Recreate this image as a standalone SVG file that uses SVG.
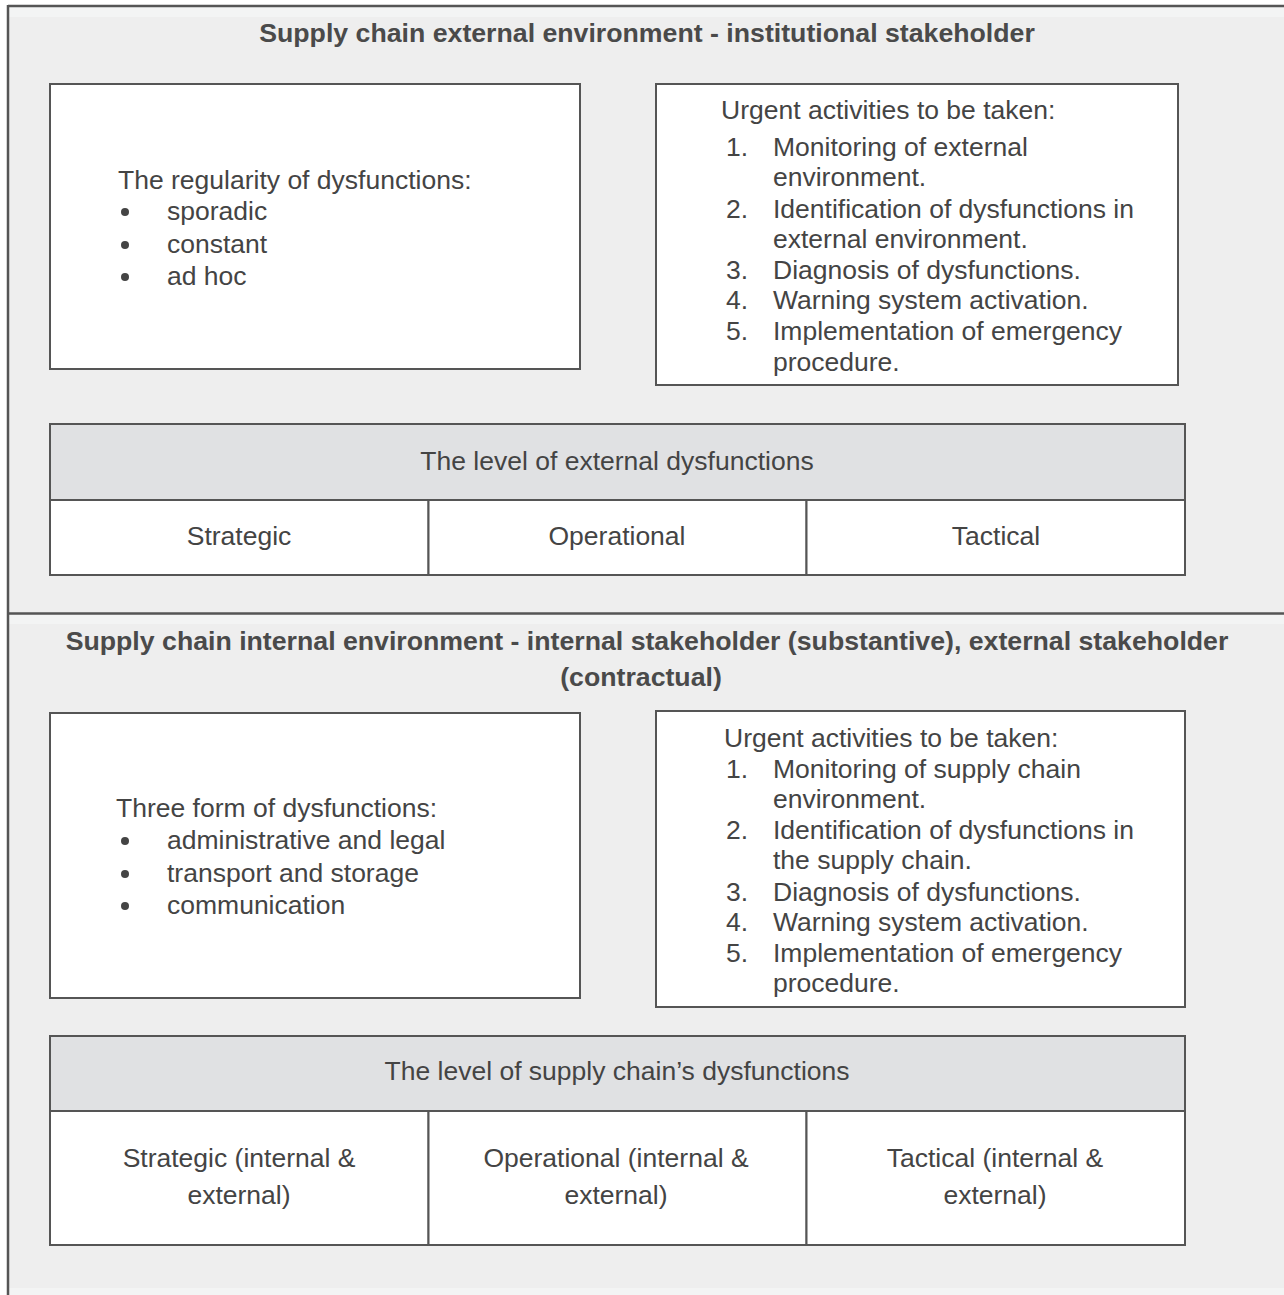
<svg xmlns="http://www.w3.org/2000/svg" width="1284" height="1295" viewBox="0 0 1284 1295">
<style>
.t{font-family:"Liberation Sans",Arial,sans-serif;font-size:26.5px;fill:#444}
.b{font-family:"Liberation Sans",Arial,sans-serif;font-size:26.7px;font-weight:bold;fill:#4a4a4a}
.c{text-anchor:middle}
.box{fill:#fff;stroke:#555;stroke-width:2}
.hdr{fill:#e0e1e3;stroke:#555;stroke-width:2}
.ln{stroke:#555;stroke-width:2.5;fill:none}
.band{fill:#f3f4f4}
</style>
<rect x="0" y="0" width="1284" height="1295" fill="#fff"/>
<rect x="8" y="6" width="1276" height="1289" fill="#eeeeee"/>
<rect class="band" x="9" y="7" width="1275" height="10"/>
<rect class="band" x="9" y="615" width="1275" height="9"/>
<rect class="band" x="9" y="1288" width="1275" height="7"/>
<g id="frame">
<line class="ln" x1="8" y1="6" x2="1284" y2="6"/>
<line class="ln" x1="8" y1="613.5" x2="1284" y2="613.5"/>
<line class="ln" x1="8" y1="5" x2="8" y2="1295"/>
</g>
<g id="title-external">
<text class="b c" x="647" y="42">Supply chain external environment - institutional stakeholder</text>
</g>
<g id="regularity">
<rect class="box" x="50" y="84" width="530" height="285"/>
<text class="t" x="118" y="189">The regularity of dysfunctions:</text>
<circle cx="125" cy="212" r="4" fill="#444"/><circle cx="125" cy="245" r="4" fill="#444"/><circle cx="125" cy="277" r="4" fill="#444"/>
<text class="t" x="167" y="220">sporadic</text>
<text class="t" x="167" y="253">constant</text>
<text class="t" x="167" y="285">ad hoc</text>
</g>
<g id="urgent-external">
<rect class="box" x="656" y="84" width="522" height="301"/>
<text class="t" x="721" y="119">Urgent activities to be taken:</text>
<text class="t" x="726" y="156">1.</text><text class="t" x="773" y="156">Monitoring of external</text>
<text class="t" x="773" y="186">environment.</text>
<text class="t" x="726" y="218">2.</text><text class="t" x="773" y="218">Identification of dysfunctions in</text>
<text class="t" x="773" y="248">external environment.</text>
<text class="t" x="726" y="279">3.</text><text class="t" x="773" y="279">Diagnosis of dysfunctions.</text>
<text class="t" x="726" y="309">4.</text><text class="t" x="773" y="309">Warning system activation.</text>
<text class="t" x="726" y="340">5.</text><text class="t" x="773" y="340">Implementation of emergency</text>
<text class="t" x="773" y="371">procedure.</text>
</g>
<g id="level-external">
<rect class="hdr" x="50" y="424" width="1135" height="76"/>
<text class="t c" x="617" y="470">The level of external dysfunctions</text>
<rect class="box" x="50" y="500" width="378.5" height="75"/>
<rect class="box" x="428.5" y="500" width="378" height="75"/>
<rect class="box" x="806.5" y="500" width="378.5" height="75"/>
<text class="t c" x="239" y="545">Strategic</text>
<text class="t c" x="617" y="545">Operational</text>
<text class="t c" x="996" y="545">Tactical</text>
</g>
<g id="title-internal">
<text class="b c" x="647" y="650">Supply chain internal environment - internal stakeholder (substantive), external stakeholder</text>
<text class="b c" x="641" y="686">(contractual)</text>
</g>
<g id="forms">
<rect class="box" x="50" y="713" width="530" height="285"/>
<text class="t" x="116" y="817">Three form of dysfunctions:</text>
<circle cx="125" cy="841" r="4" fill="#444"/><circle cx="125" cy="874" r="4" fill="#444"/><circle cx="125" cy="906" r="4" fill="#444"/>
<text class="t" x="167" y="849">administrative and legal</text>
<text class="t" x="167" y="882">transport and storage</text>
<text class="t" x="167" y="914">communication</text>
</g>
<g id="urgent-internal">
<rect class="box" x="656" y="711" width="529" height="296"/>
<text class="t" x="724" y="747">Urgent activities to be taken:</text>
<text class="t" x="726" y="778">1.</text><text class="t" x="773" y="778">Monitoring of supply chain</text>
<text class="t" x="773" y="808">environment.</text>
<text class="t" x="726" y="839">2.</text><text class="t" x="773" y="839">Identification of dysfunctions in</text>
<text class="t" x="773" y="869">the supply chain.</text>
<text class="t" x="726" y="901">3.</text><text class="t" x="773" y="901">Diagnosis of dysfunctions.</text>
<text class="t" x="726" y="931">4.</text><text class="t" x="773" y="931">Warning system activation.</text>
<text class="t" x="726" y="962">5.</text><text class="t" x="773" y="962">Implementation of emergency</text>
<text class="t" x="773" y="992">procedure.</text>
</g>
<g id="level-internal">
<rect class="hdr" x="50" y="1036" width="1135" height="75"/>
<text class="t c" x="617" y="1080">The level of supply chain’s dysfunctions</text>
<rect class="box" x="50" y="1111" width="378.5" height="134"/>
<rect class="box" x="428.5" y="1111" width="378" height="134"/>
<rect class="box" x="806.5" y="1111" width="378.5" height="134"/>
<text class="t c" x="239" y="1167">Strategic (internal &amp;</text>
<text class="t c" x="239" y="1204">external)</text>
<text class="t c" x="616" y="1167">Operational (internal &amp;</text>
<text class="t c" x="616" y="1204">external)</text>
<text class="t c" x="995" y="1167">Tactical (internal &amp;</text>
<text class="t c" x="995" y="1204">external)</text>
</g>
</svg>
